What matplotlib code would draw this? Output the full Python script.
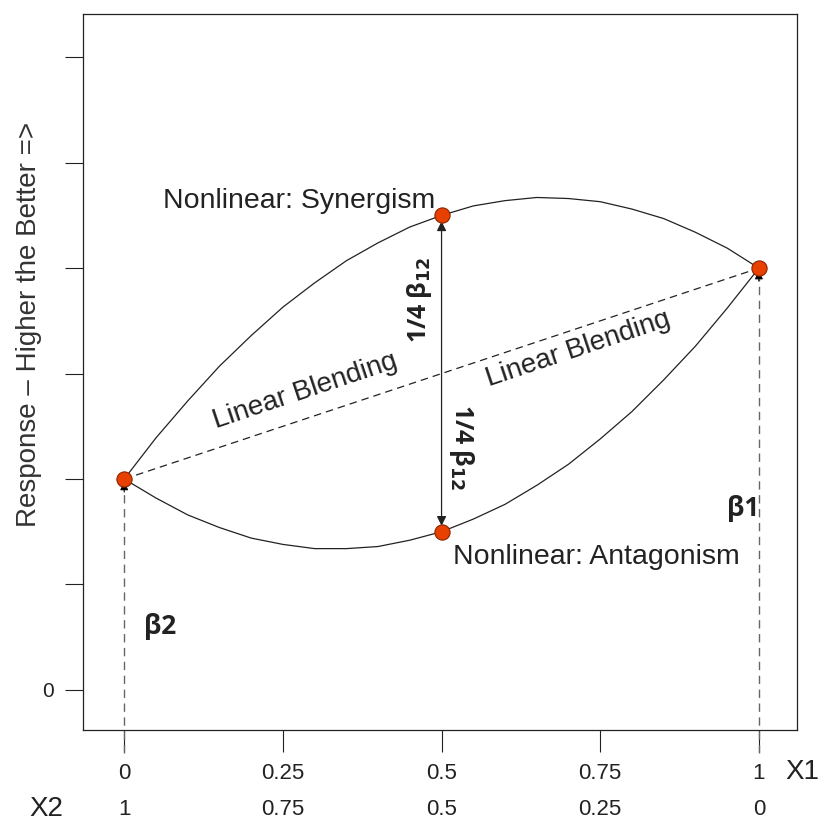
import matplotlib.pyplot as plt
import numpy as np

# Данные: доля X1 и отклик для кривых
x1 = [0.0, 0.05, 0.1, 0.15, 0.2, 0.25, 0.3, 0.35, 0.4, 0.45, 0.5,
      0.55, 0.6, 0.65, 0.7, 0.75, 0.8, 0.85, 0.9, 0.95, 1.0]
synergism = [2.0, 2.39, 2.74, 3.07, 3.36, 3.63, 3.86, 4.07, 4.24, 4.39, 4.5,
             4.59, 4.64, 4.67, 4.66, 4.63, 4.56, 4.47, 4.34, 4.19, 4.0]
antagonism = [2.0, 1.82, 1.66, 1.54, 1.44, 1.38, 1.34, 1.34, 1.36, 1.42, 1.5,
              1.62, 1.76, 1.94, 2.14, 2.38, 2.64, 2.94, 3.26, 3.62, 4.0]
points_x = [0.0, 0.5, 0.5, 1.0]
points_y = [2.0, 4.5, 1.5, 4.0]
x1_ticks = [0, 0.25, 0.5, 0.75, 1]
x1_labels = ['0', '0.25', '0.5', '0.75', '1']
x2_labels = ['1', '0.75', '0.5', '0.25', '0']

plt.rcParams['font.family'] = ['Liberation Sans', 'DejaVu Sans']
dark = '#222222'
bold_font = ['Open Sans', 'DejaVu Sans']

fig = plt.figure(figsize=(8.19, 8.23), dpi=100)
ax = fig.add_axes([0.1013, 0.113, 0.8718, 0.870])

# Кривые
ax.plot(x1, synergism, color=dark, lw=0.9)
ax.plot(x1, antagonism, color=dark, lw=0.9)
ax.plot([0, 1], [2, 4], color=dark, lw=0.9, ls=(0, (6, 4)))

# Вертикальные пунктиры со стрелками
for xv, yv in [(0, 2.0), (1, 4.0)]:
    ax.plot([xv, xv], [-0.6, yv - 0.1], color='#666666', lw=1.0,
            ls=(0, (6, 4)), clip_on=False)
    ax.annotate('', xy=(xv, yv), xytext=(xv, yv - 0.15),
                arrowprops=dict(arrowstyle='-|>', color='black', lw=0.8,
                                mutation_scale=12))

# Двойная стрелка
ax.annotate('', xy=(0.5, 4.47), xytext=(0.5, 1.53),
            arrowprops=dict(arrowstyle='<|-|>', color=dark, lw=0.9,
                            mutation_scale=14))

ax.scatter(points_x, points_y, s=120, color='#E84000', edgecolor='#8a2500',
           linewidth=0.8, zorder=5)

# Подписи
ax.text(0.49, 4.64, 'Nonlinear: Synergism', fontsize=20.5, ha='right',
        va='center', color=dark)
ax.text(0.518, 1.26, 'Nonlinear: Antagonism', fontsize=20.5, ha='left',
        va='center', color=dark)
ax.text(0.285, 2.83, 'Linear Blending', fontsize=20, rotation=18.5,
        ha='center', va='center', color=dark)
ax.text(0.715, 3.23, 'Linear Blending', fontsize=20, rotation=18.5,
        ha='center', va='center', color=dark)
ax.text(0.466, 3.70, '1/4 β$_{\\mathbf{12}}$', fontsize=18, fontweight='bold',
        rotation=90, ha='center', va='center', color=dark, family=bold_font)
ax.text(0.532, 2.30, '1/4 β$_{\\mathbf{12}}$', fontsize=18, fontweight='bold',
        rotation=-90, ha='center', va='center', color=dark, family=bold_font)
ax.text(0.057, 0.6, 'β2', fontsize=19, fontweight='bold', ha='center',
        va='center', color=dark, family=bold_font)
ax.text(0.975, 1.72, 'β1', fontsize=19, fontweight='bold', ha='center',
        va='center', color=dark, family=bold_font)

# Оси
ax.set_xlim(-0.065, 1.06)
ax.set_ylim(-0.38, 6.41)
ax.set_xticks(x1_ticks)
ax.set_xticklabels(x1_labels, fontsize=16)
ax.set_yticks(range(7))
ax.set_yticklabels(['0', '', '', '', '', '', ''], fontsize=15)
ax.tick_params(axis='x', length=16, width=0.8, pad=8, colors=dark)
ax.tick_params(axis='y', length=13, width=0.8, pad=8, colors=dark)
for s in ax.spines.values():
    s.set_linewidth(0.9)
    s.set_color(dark)

# Вторая шкала X2 под осью
for xv, lab in zip(x1_ticks, x2_labels):
    ax.text(xv, -1.13, lab, fontsize=16, ha='center', va='center',
            color=dark, clip_on=False)
ax.text(1.041, -0.78, 'X1', fontsize=20, ha='left', va='center', color=dark)
ax.text(-0.123, -1.13, 'X2', fontsize=20, ha='center', va='center', color=dark)

ax.set_ylabel('Response – Higher the Better =>', fontsize=20, color='#333333')
ax.yaxis.set_label_coords(-0.058, 0.566)

plt.savefig('out.png', dpi=100)
